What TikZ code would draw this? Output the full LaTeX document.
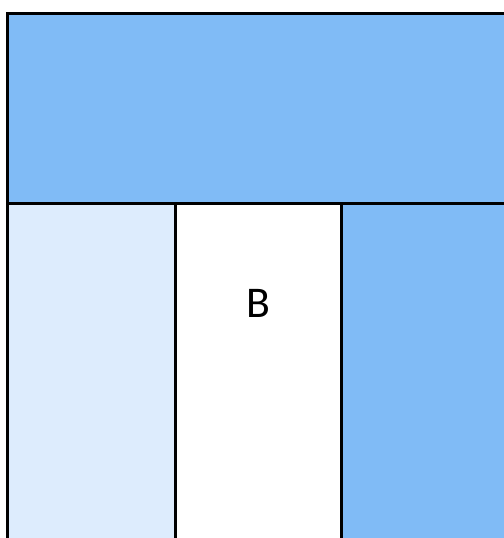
\documentclass[tikz,border=0pt]{standalone}
\usepackage{fontspec}
\newfontfamily\labelfont{Carlito}
\usepackage{xcolor}
\usepackage{tikz}
\usetikzlibrary{positioning}

\definecolor{paneblue}{RGB}{128,187,246}
\definecolor{panelight}{RGB}{221,236,253}

\tikzset{
  edge/.style={draw=black, line width=3bp},
  lbl/.style={font=\labelfont\fontsize{44}{50}\selectfont, inner sep=0pt}
}

\begin{document}
\begin{tikzpicture}[x=1bp, y=-1bp]
  \useasboundingbox (0,0) rectangle (504,538);
  % panels
  \fill[paneblue] (7.5,13.5) rectangle (504,203.5);
  \foreach \xa/\xb/\c in {7.5/175/panelight, 175/341.5/white, 341.5/504/paneblue}
    \fill[\c] (\xa,203.5) rectangle (\xb,538);
  \node[lbl] (b) at (258.5,303) {B};
  % borders
  \draw[edge] (7.5,538) -- (7.5,13.5) -- (504,13.5);
  \draw[edge] (7.5,203.5) -- (504,203.5);
  \foreach \x in {175, 341.5}
    \draw[edge] (\x,203.5) -- (\x,538);
\end{tikzpicture}
\end{document}
